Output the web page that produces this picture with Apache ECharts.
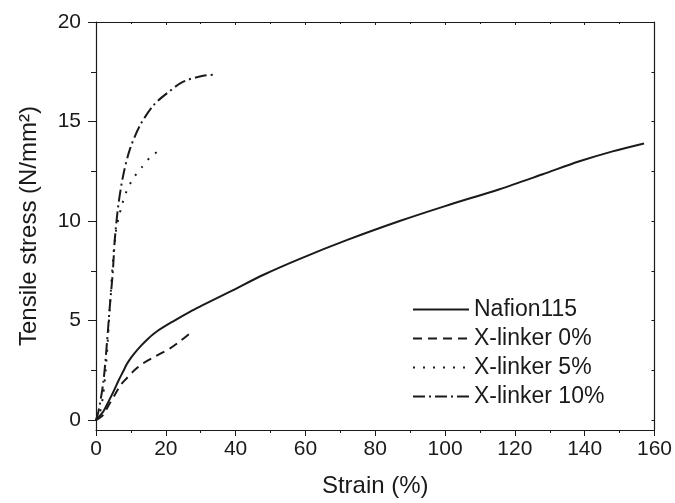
<!DOCTYPE html>
<html>
<head>
<meta charset="utf-8">
<script src="https://cdn.jsdelivr.net/npm/echarts@6/dist/echarts.min.js"></script>
<style>
  html, body { margin: 0; padding: 0; background: #fff; }
  #chart { width: 675px; height: 503px; }
</style>
</head>
<body>
<div id="chart"></div>
<script>
// values
const seriesNames = ["Nafion115", "X-linker 0%", "X-linker 5%", "X-linker 10%"];

const nafionStrain = [0, 1, 2.1, 3.5, 5, 6.5, 7.8, 8.8, 9.7, 11, 13, 15, 17.4, 22, 27, 30, 38.4, 48, 58.4, 72, 87, 100, 115.6, 128, 138.5, 148, 157];
const nafionStress = [0, 0.2, 0.43, 0.9, 1.43, 2.0, 2.45, 2.8, 3.05, 3.35, 3.75, 4.1, 4.45, 4.95, 5.45, 5.72, 6.45, 7.3, 8.1, 9.05, 10.0, 10.75, 11.6, 12.35, 13.0, 13.5, 13.9];

const xl0Strain = [0, 1, 2.1, 3.5, 5.4, 7, 8.8, 11, 13.5, 17, 21.2, 24, 27.4];
const xl0Stress = [0, 0.1, 0.27, 0.7, 1.27, 1.75, 2.1, 2.5, 2.85, 3.2, 3.6, 3.95, 4.43];

const xl5Strain = [0, 1, 2, 3, 4, 5, 5.8, 6.4, 7.4, 8.6, 10.5, 13.1, 15.9, 18.8];
const xl5Stress = [0, 0.3, 1.2, 3.0, 5.8, 8.3, 9.6, 10.1, 10.77, 11.43, 12.1, 12.7, 13.27, 13.6];

const xl10Strain = [0, 0.7, 2.1, 3.1, 4.0, 4.8, 5.4, 6.4, 7.8, 9.7, 12.6, 16.4, 20.2, 25, 30.7, 34.1];
const xl10Stress = [0, 0.43, 1.9, 3.8, 5.8, 7.4, 9.1, 10.8, 12.3, 13.6, 14.8, 15.8, 16.4, 17.0, 17.3, 17.35];

const yLabelValues = [0, 5, 10, 15, 20];
const yMinorValues = [2.5, 7.5, 12.5, 17.5];

const zip = (xs, ys) => xs.map((x, i) => [x, ys[i]]);

const ink = "#1a1a1a";
const font = "Liberation Sans";

const lineSeries = (name, xs, ys, type) => ({
  name,
  type: "line",
  data: zip(xs, ys),
  smooth: 0.3,
  showSymbol: false,
  symbol: "none",
  lineStyle: { color: ink, width: 2, type },
  itemStyle: { color: ink },
});

const chart = echarts.init(document.getElementById("chart"), null, { renderer: "canvas" });

chart.setOption({
  animation: false,
  textStyle: { fontFamily: font, color: ink },
  grid: { left: 96, right: 20, top: 22, bottom: 71 },
  legend: {
    orient: "vertical",
    left: 407,
    top: 293,
    itemWidth: 56,
    itemHeight: 14,
    itemGap: 6,
    data: seriesNames,
    itemStyle: { color: "transparent", borderWidth: 0 },
    textStyle: { fontFamily: font, fontSize: 23, color: ink },
  },
  xAxis: [
    {
      type: "value",
      min: 0,
      max: 160,
      interval: 20,
      position: "bottom",
      name: "Strain (%)",
      nameLocation: "middle",
      nameGap: 44,
      nameTextStyle: { fontFamily: font, fontSize: 24, color: ink },
      axisLine: { onZero: false, lineStyle: { color: ink, width: 1.2 } },
      axisTick: { inside: false, length: 6, lineStyle: { color: ink } },
      minorTick: { show: true, splitNumber: 2, length: 3, lineStyle: { color: ink } },
      axisLabel: { fontSize: 21, color: ink, margin: 9, fontFamily: font },
      splitLine: { show: false },
    },
    {
      type: "value",
      min: 0,
      max: 160,
      interval: 20,
      position: "top",
      axisLine: { onZero: false, lineStyle: { color: ink, width: 1.2 } },
      axisTick: { inside: true, length: 3, lineStyle: { color: ink } },
      minorTick: { show: true, splitNumber: 2, length: 2, lineStyle: { color: ink } },
      axisLabel: { show: false },
      splitLine: { show: false },
    },
  ],
  yAxis: [
    {
      type: "value",
      min: -0.5,
      max: 20,
      position: "left",
      name: "Tensile stress (N/mm²)",
      nameLocation: "middle",
      nameGap: 55,
      nameRotate: 90,
      nameTextStyle: { fontFamily: font, fontSize: 24, color: ink },
      axisLine: { onZero: false, lineStyle: { color: ink, width: 1.2 } },
      axisTick: { inside: false, length: 8, customValues: yLabelValues, lineStyle: { color: ink } },
      axisLabel: { fontSize: 21, color: ink, margin: 15, customValues: yLabelValues, fontFamily: font },
      splitLine: { show: false },
    },
    {
      // minor ticks on the left axis
      type: "value",
      min: -0.5,
      max: 20,
      position: "left",
      axisLine: { show: false },
      axisTick: { inside: false, length: 5, customValues: yMinorValues, lineStyle: { color: ink } },
      axisLabel: { show: false, customValues: yMinorValues },
      splitLine: { show: false },
    },
    {
      // right frame edge
      type: "value",
      min: -0.5,
      max: 20,
      position: "right",
      axisLine: { show: true, onZero: false, lineStyle: { color: ink, width: 1.2 } },
      axisTick: { inside: true, length: 3, customValues: yLabelValues.concat(yMinorValues), lineStyle: { color: ink } },
      axisLabel: { show: false, customValues: yLabelValues },
      splitLine: { show: false },
    },
  ],
  series: [
    lineSeries(seriesNames[0], nafionStrain, nafionStress, "solid"),
    lineSeries(seriesNames[1], xl0Strain, xl0Stress, [9, 6]),
    lineSeries(seriesNames[2], xl5Strain, xl5Stress, [2, 8]),
    lineSeries(seriesNames[3], xl10Strain, xl10Stress, [12, 4, 2, 4]),
  ],
});
</script>
</body>
</html>
